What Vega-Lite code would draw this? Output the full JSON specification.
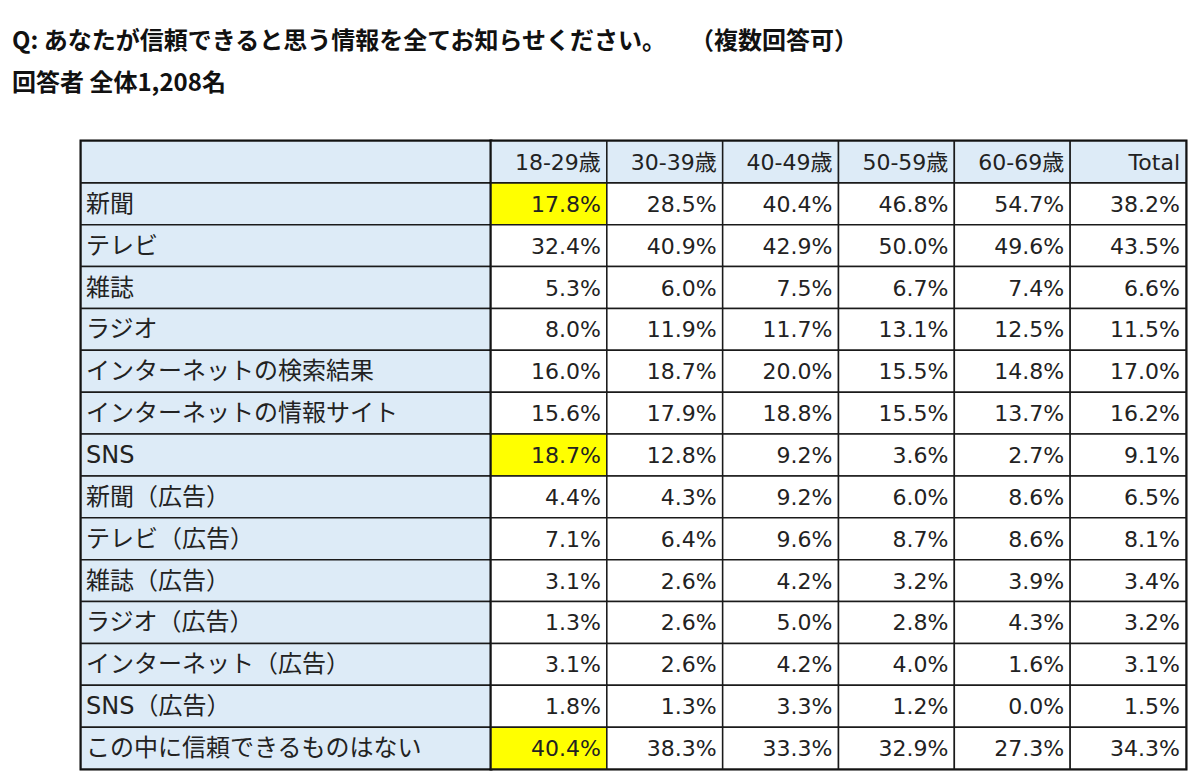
{
  "$schema": "https://vega.github.io/schema/vega-lite/v6.json",
  "padding": {"left": 12, "top": 29, "right": 0, "bottom": 0},
  "background": "white",
  "bounds": "flush",
  "spacing": 0,
  "title": {
    "text": "Q: あなたが信頼できると思う情報を全てお知らせください。　\u2002（複数回答可）",
    "subtitle": "回答者 全体1,208名",
    "anchor": "start",
    "frame": "group",
    "offset": 43,
    "baseline": "top",
    "font": "Noto Sans CJK JP",
    "fontSize": 24,
    "fontWeight": "bold",
    "color": "#111111",
    "subtitleFont": "Noto Sans CJK JP",
    "subtitleFontSize": 24,
    "subtitleFontWeight": "bold",
    "subtitleColor": "#111111",
    "subtitlePadding": 18
  },
  "config": {"view": {"stroke": "#000000", "strokeWidth": 3}},
  "datasets": {
    "rows": [
      {"item": "新聞", "18-29歳": 0.178, "30-39歳": 0.285, "40-49歳": 0.404, "50-59歳": 0.468, "60-69歳": 0.547, "Total": 0.382},
      {"item": "テレビ", "18-29歳": 0.324, "30-39歳": 0.409, "40-49歳": 0.429, "50-59歳": 0.500, "60-69歳": 0.496, "Total": 0.435},
      {"item": "雑誌", "18-29歳": 0.053, "30-39歳": 0.060, "40-49歳": 0.075, "50-59歳": 0.067, "60-69歳": 0.074, "Total": 0.066},
      {"item": "ラジオ", "18-29歳": 0.080, "30-39歳": 0.119, "40-49歳": 0.117, "50-59歳": 0.131, "60-69歳": 0.125, "Total": 0.115},
      {"item": "インターネットの検索結果", "18-29歳": 0.160, "30-39歳": 0.187, "40-49歳": 0.200, "50-59歳": 0.155, "60-69歳": 0.148, "Total": 0.170},
      {"item": "インターネットの情報サイト", "18-29歳": 0.156, "30-39歳": 0.179, "40-49歳": 0.188, "50-59歳": 0.155, "60-69歳": 0.137, "Total": 0.162},
      {"item": "SNS", "18-29歳": 0.187, "30-39歳": 0.128, "40-49歳": 0.092, "50-59歳": 0.036, "60-69歳": 0.027, "Total": 0.091},
      {"item": "新聞（広告）", "18-29歳": 0.044, "30-39歳": 0.043, "40-49歳": 0.092, "50-59歳": 0.060, "60-69歳": 0.086, "Total": 0.065},
      {"item": "テレビ（広告）", "18-29歳": 0.071, "30-39歳": 0.064, "40-49歳": 0.096, "50-59歳": 0.087, "60-69歳": 0.086, "Total": 0.081},
      {"item": "雑誌（広告）", "18-29歳": 0.031, "30-39歳": 0.026, "40-49歳": 0.042, "50-59歳": 0.032, "60-69歳": 0.039, "Total": 0.034},
      {"item": "ラジオ（広告）", "18-29歳": 0.013, "30-39歳": 0.026, "40-49歳": 0.050, "50-59歳": 0.028, "60-69歳": 0.043, "Total": 0.032},
      {"item": "インターネット（広告）", "18-29歳": 0.031, "30-39歳": 0.026, "40-49歳": 0.042, "50-59歳": 0.040, "60-69歳": 0.016, "Total": 0.031},
      {"item": "SNS（広告）", "18-29歳": 0.018, "30-39歳": 0.013, "40-49歳": 0.033, "50-59歳": 0.012, "60-69歳": 0.000, "Total": 0.015},
      {"item": "この中に信頼できるものはない", "18-29歳": 0.404, "30-39歳": 0.383, "40-49歳": 0.333, "50-59歳": 0.329, "60-69歳": 0.273, "Total": 0.343}
    ],
    "cols": [
      {"col": "18-29歳"}, {"col": "30-39歳"}, {"col": "40-49歳"}, {"col": "50-59歳"}, {"col": "60-69歳"}, {"col": "Total"}
    ]
  },
  "hconcat": [
    {
      "width": 69,
      "height": 628,
      "view": {"stroke": null},
      "data": {"values": [{"s": ""}]},
      "mark": {"type": "text"},
      "encoding": {"text": {"field": "s"}}
    },
    {
      "width": 410,
      "height": 628,
      "layer": [
        {
          "data": {"name": "rows"},
          "mark": {"type": "rect", "fill": "#DDEBF7", "stroke": "#1a1a1a", "strokeWidth": 1.5},
          "encoding": {
            "x": {"datum": "項目", "type": "nominal", "scale": {"paddingInner": 0, "paddingOuter": 0}, "axis": null},
            "y": {"field": "item", "type": "nominal", "axis": null,
                  "scale": {"domain": ["_h", "新聞", "テレビ", "雑誌", "ラジオ", "インターネットの検索結果", "インターネットの情報サイト", "SNS", "新聞（広告）", "テレビ（広告）", "雑誌（広告）", "ラジオ（広告）", "インターネット（広告）", "SNS（広告）", "この中に信頼できるものはない"], "paddingInner": 0, "paddingOuter": 0}}
          }
        },
        {
          "data": {"values": [{"h": ""}]},
          "mark": {"type": "rect", "fill": "#DDEBF7", "stroke": "#1a1a1a", "strokeWidth": 1.5},
          "encoding": {
            "x": {"datum": "項目", "type": "nominal"},
            "y": {"datum": "_h", "type": "nominal"}
          }
        },
        {
          "data": {"name": "rows"},
          "mark": {"type": "text", "align": "left", "baseline": "middle", "dx": 5, "dy": 1, "font": "DejaVu Sans, Noto Sans CJK JP", "fontSize": 24, "color": "#222222"},
          "encoding": {
            "x": {"datum": "項目", "type": "nominal", "bandPosition": 0},
            "y": {"field": "item", "type": "nominal"},
            "text": {"field": "item"}
          }
        }
      ]
    },
    {
      "width": 695,
      "height": 628,
      "layer": [
        {
          "data": {"name": "rows"},
          "transform": [{"fold": ["18-29歳", "30-39歳", "40-49歳", "50-59歳", "60-69歳", "Total"], "as": ["col", "v"]}],
          "mark": {"type": "rect", "stroke": "#1a1a1a", "strokeWidth": 1.5},
          "encoding": {
            "x": {"field": "col", "type": "nominal", "axis": null,
                  "scale": {"domain": ["18-29歳", "30-39歳", "40-49歳", "50-59歳", "60-69歳", "Total"], "paddingInner": 0, "paddingOuter": 0}},
            "y": {"field": "item", "type": "nominal", "axis": null,
                  "scale": {"domain": ["_h", "新聞", "テレビ", "雑誌", "ラジオ", "インターネットの検索結果", "インターネットの情報サイト", "SNS", "新聞（広告）", "テレビ（広告）", "雑誌（広告）", "ラジオ（広告）", "インターネット（広告）", "SNS（広告）", "この中に信頼できるものはない"], "paddingInner": 0, "paddingOuter": 0}},
            "fill": {
              "condition": {"test": "datum.col === '18-29歳' && (datum.item === '新聞' || datum.item === 'SNS' || datum.item === 'この中に信頼できるものはない')", "value": "#FFFF00"},
              "value": "#FFFFFF"
            }
          }
        },
        {
          "data": {"name": "cols"},
          "mark": {"type": "rect", "fill": "#DDEBF7", "stroke": "#1a1a1a", "strokeWidth": 1.5},
          "encoding": {
            "x": {"field": "col", "type": "nominal"},
            "y": {"datum": "_h", "type": "nominal"}
          }
        },
        {
          "data": {"name": "rows"},
          "transform": [{"fold": ["18-29歳", "30-39歳", "40-49歳", "50-59歳", "60-69歳", "Total"], "as": ["col", "v"]}],
          "mark": {"type": "text", "align": "right", "baseline": "middle", "dx": -6, "dy": 1, "font": "DejaVu Sans, Noto Sans CJK JP", "fontSize": 22, "color": "#222222"},
          "encoding": {
            "x": {"field": "col", "type": "nominal", "bandPosition": 1},
            "y": {"field": "item", "type": "nominal"},
            "text": {"field": "v", "type": "quantitative", "format": ".1%"}
          }
        },
        {
          "data": {"name": "cols"},
          "mark": {"type": "text", "align": "right", "baseline": "middle", "dx": -6, "dy": 1, "font": "DejaVu Sans, Noto Sans CJK JP", "fontSize": 22, "color": "#222222"},
          "encoding": {
            "x": {"field": "col", "type": "nominal", "bandPosition": 1},
            "y": {"datum": "_h", "type": "nominal"},
            "text": {"field": "col"}
          }
        }
      ]
    }
  ]
}
